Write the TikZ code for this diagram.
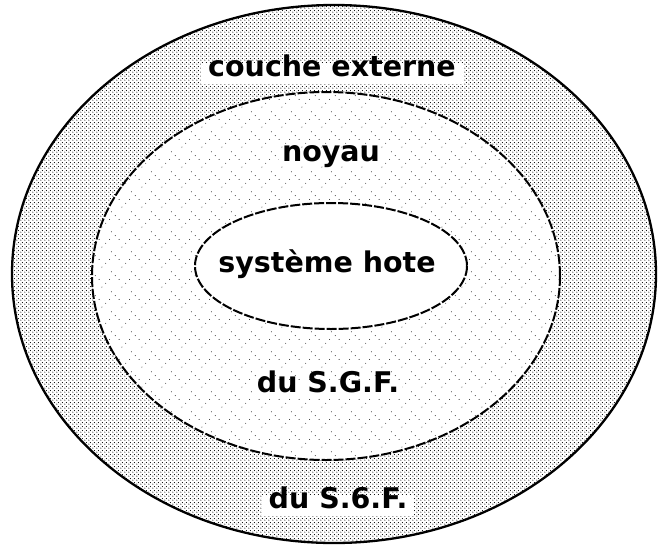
\documentclass[tikz,border=0pt]{standalone}
\usepackage{fontspec}
\setmainfont{DejaVu Sans}
\usetikzlibrary{patterns.meta}
\tikzdeclarepattern{name=stipple, type=uncolored,
  bounding box={(0,0) and (4pt,4pt)}, tile size={(4pt,4pt)},
  code={\fill (1pt,1pt) circle (0.65pt); \fill (3pt,3pt) circle (0.65pt);}}
\tikzdeclarepattern{name=dothatch, type=uncolored,
  bounding box={(0,0) and (20pt,20pt)}, tile size={(20pt,20pt)},
  code={
    \foreach \i in {0,1,2}{\fill (\i*4pt+2pt,\i*4pt+2pt) circle (0.5pt);}
    \foreach \i in {0,1,2}{\fill (\i*4pt+12pt,18pt-\i*4pt) circle (0.5pt);}
  }}
\tikzset{
  lab/.style={font=\fontsize{28.5}{32}\selectfont\bfseries, anchor=base, fill=white, inner xsep=7pt, inner ysep=6pt, text height=0.72em, text depth=0.22em},
  rim/.style={line width=2.3pt},
  dashrim/.style={line width=2pt, dash pattern=on 10pt off 2pt},
}
\begin{document}
\begin{tikzpicture}[x=1pt,y=-1pt]
\useasboundingbox (0,0) rectangle (659,549);
\fill[white] (0,0) rectangle (659,549);
\path[pattern=stipple, pattern color=black] (334,274) ellipse [x radius=322, y radius=269];
\draw[rim] (334,274) ellipse [x radius=322, y radius=269];
\path[fill=white] (326,276) ellipse [x radius=234, y radius=184];
\path[pattern=dothatch, pattern color=black] (326,276) ellipse [x radius=234, y radius=184];
\draw[dashrim] (326,276) ellipse [x radius=234, y radius=184];
\path[fill=white] (331,266) ellipse [x radius=136, y radius=63];
\draw[dashrim] (331,266) ellipse [x radius=136, y radius=63];
\node[lab] (ext) at (332,76) {couche externe};
\node[lab, inner sep=3pt] (noy) at (331,161) {noyau};
\node[lab, fill=none] (hote) at (327,272) {système hote};
\node[lab, inner sep=3pt] (sgf1) at (328,392) {du S.G.F.};
\node[lab] (sgf2) at (338,508) {du S.6.F.};
\end{tikzpicture}
\end{document}
